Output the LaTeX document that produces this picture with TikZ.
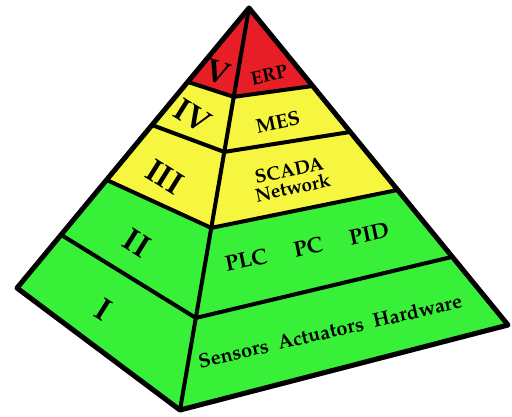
\documentclass[tikz,border=0pt]{standalone}
\usepackage{fontspec}
\setmainfont{TeX Gyre Pagella}
\usetikzlibrary{calc}

\definecolor{erpred}{RGB}{232,30,38}
\definecolor{mesyellow}{RGB}{246,246,64}
\definecolor{fieldgreen}{RGB}{56,240,56}

\begin{document}
\begin{tikzpicture}[
        x = 1pt, y = -1pt,
        rim/.style = {line width = 5pt, line join = round},
        edge/.style = {line width = 4pt, line join = round},
        numeral/.style = {font = \fontsize{32}{34}\selectfont\bfseries, rotate = -32, inner sep = 0pt},
        tag/.style = {font = \fontsize{20}{22}\selectfont\bfseries, rotate = 12, inner sep = 0pt, align = center}
    ]
    \useasboundingbox (0,0) rectangle (512,417);

    % corners of the pyramid
    \coordinate (apex) at (249,8);
    \coordinate (west) at (17,288);
    \coordinate (front) at (180,410);
    \coordinate (east) at (508,325);

    % level boundaries on the edges
    \foreach \i/\l/\f/\r in {1/0.264/0.221/0.246, 2/0.418/0.358/0.391, 3/0.614/0.547/0.574, 4/0.81/0.771/0.785} {
        \coordinate (w\i) at ($(apex)!\l!(west)$);
        \coordinate (f\i) at ($(apex)!\f!(front)$);
        \coordinate (e\i) at ($(apex)!\r!(east)$);
    }

    % shadow
    \draw[gray!60, line width = 5pt, line join = round, shift = {(2,4)}] (west) -- (front) -- (east);

    % faces
    \fill[erpred] (apex) -- (w1) -- (f1) -- (e1) -- cycle;
    \fill[mesyellow] (w1) -- (w3) -- (f3) -- (e3) -- (e1) -- (f1) -- cycle;
    \fill[fieldgreen] (w3) -- (west) -- (front) -- (east) -- (e3) -- (f3) -- cycle;

    % lines
    \foreach \i in {1,...,4}
        \draw[edge] (w\i) -- (f\i) -- (e\i);
    \draw[edge] (apex) -- (front);
    \draw[rim] (apex) -- (west) -- (front) -- (east) -- cycle;

    % left face
    \node[numeral, rotate = 14] (lv5) at (218,72) {V};
    \node[numeral] (lv4) at (193,116) {IV};
    \node[numeral] (lv3) at (165,177) {III};
    \node[numeral] (lv2) at (137,243) {II};
    \node[numeral] (lv1) at (104,310) {I};

    % right face
    \node[tag, font = \fontsize{19}{21}\selectfont\bfseries] (erp) at (269,75) {ERP};
    \node[tag] (mes) at (278,122) {MES};
    \node[tag, font = \fontsize{19}{18}\selectfont\bfseries] (scada) at (291,179) {SCADA\\Network};
    \node[tag, font = \fontsize{22}{24}\selectfont\bfseries] (plc) at (307,247) {PLC\quad\ PC\quad\ PID};
    \node[tag, rotate = 1] (field) at (330,331) {Sensors\enspace Actuators\enspace Hardware};
\end{tikzpicture}
\end{document}
